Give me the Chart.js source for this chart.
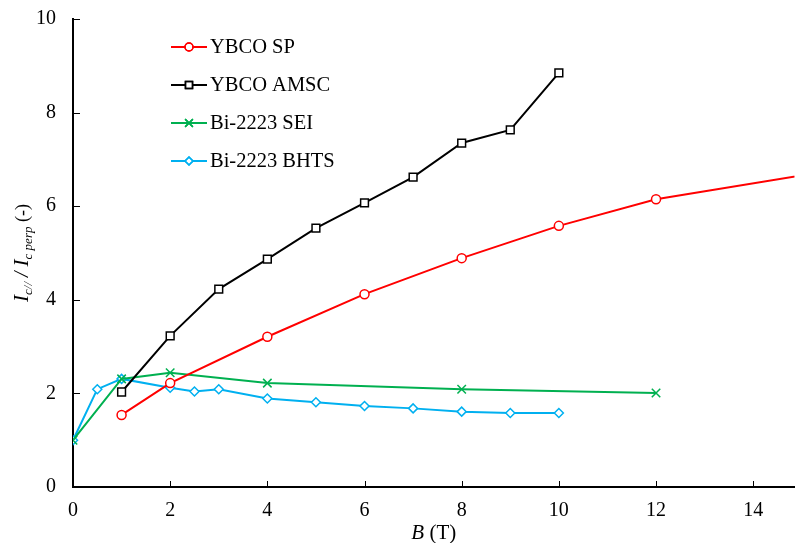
<!DOCTYPE html>
<html>
<head>
<meta charset="utf-8">
<script src="https://cdn.jsdelivr.net/npm/chart.js@4.4.1/dist/chart.umd.min.js"></script>
<style>
  html, body { margin: 0; padding: 0; background: #fff; overflow: hidden; }
  /* a few px wider than the window: Chart.js keeps a small right margin for the x labels */
  #wrap { width: 802px; height: 543px; }
</style>
</head>
<body>
<div id="wrap"><canvas id="chart"></canvas></div>
<script>
// B (T) values and Ic///Ic perp ratios
const spB = [1, 2, 4, 6, 8, 10, 12, 16];
const spRatio = [1.54, 2.22, 3.21, 4.12, 4.89, 5.58, 6.15, 6.83];

const amscB = [1, 2, 3, 4, 5, 6, 7, 8, 9, 10];
const amscRatio = [2.03, 3.23, 4.23, 4.87, 5.53, 6.07, 6.62, 7.35, 7.63, 8.85];

const seiB = [0, 1, 2, 4, 8, 12];
const seiRatio = [1.0, 2.31, 2.44, 2.22, 2.09, 2.01];

const bhtsB = [0, 0.5, 1, 2, 2.5, 3, 4, 5, 6, 7, 8, 9, 10];
const bhtsRatio = [1.0, 2.09, 2.31, 2.12, 2.04, 2.09, 1.89, 1.81, 1.73, 1.68, 1.61, 1.58, 1.58];

const xTicks = [0, 2, 4, 6, 8, 10, 12, 14];
const yTicks = [0, 2, 4, 6, 8, 10];

const seriesNames = ['YBCO SP', 'YBCO AMSC', 'Bi-2223 SEI', 'Bi-2223 BHTS'];
const seriesColors = ['#ff0000', '#000000', '#00b050', '#00b0f0'];
const seriesMarkers = ['circle', 'rect', 'crossRot', 'rectRot'];
const markerSizes = [4.5, 5.5, 6, 4.5];

function toPoints(xs, ys) {
    return xs.map((x, i) => ({ x: x, y: ys[i] }));
}

const allData = [
    toPoints(spB, spRatio),
    toPoints(amscB, amscRatio),
    toPoints(seiB, seiRatio),
    toPoints(bhtsB, bhtsRatio)
];

const serif = '"Liberation Serif", "Times New Roman", serif';

// inward tick marks, axis titles and the legend box
const decorPlugin = {
    id: 'decor',
    afterDraw(chart) {
        const ctx = chart.ctx;
        const xs = chart.scales.x;
        const ys = chart.scales.y;
        const area = chart.chartArea;
        ctx.save();
        ctx.strokeStyle = '#000';
        ctx.lineWidth = 1;
        xTicks.forEach(v => {
            const px = Math.round(xs.getPixelForValue(v)) + 0.5;
            ctx.beginPath();
            ctx.moveTo(px, area.bottom);
            ctx.lineTo(px, area.bottom - 6);
            ctx.stroke();
        });
        yTicks.forEach(v => {
            const py = Math.round(ys.getPixelForValue(v)) + 0.5;
            ctx.beginPath();
            ctx.moveTo(area.left, py);
            ctx.lineTo(area.left + 7, py);
            ctx.stroke();
        });

        // x title: B (T)
        ctx.fillStyle = '#000';
        ctx.textBaseline = 'alphabetic';
        ctx.font = 'italic 21px ' + serif;
        const bW = ctx.measureText('B').width;
        ctx.font = '21px ' + serif;
        const tW = ctx.measureText(' (T)').width;
        let sx = (area.left + area.right) / 2 - (bW + tW) / 2;
        ctx.font = 'italic 21px ' + serif;
        ctx.fillText('B', sx, 539);
        ctx.font = '21px ' + serif;
        ctx.fillText(' (T)', sx + bW, 539);

        // y title: Ic// / Ic perp (-)
        const parts = [
            { t: 'I', f: 'italic 21px ' + serif, dy: 0 },
            { t: 'c//', f: 'italic 13px ' + serif, dy: 4 },
            { t: ' / ', f: 'italic 20px ' + serif, dy: 0 },
            { t: 'I', f: 'italic 21px ' + serif, dy: 0 },
            { t: 'c perp', f: 'italic 13px ' + serif, dy: 4 },
            { t: ' (-)', f: '18px ' + serif, dy: 0 }
        ];
        let total = 0;
        parts.forEach(p => { ctx.font = p.f; p.w = ctx.measureText(p.t).width; total += p.w; });
        ctx.translate(28, 253);
        ctx.rotate(-Math.PI / 2);
        let cx = -total / 2;
        parts.forEach(p => {
            ctx.font = p.f;
            ctx.fillText(p.t, cx, p.dy);
            cx += p.w;
        });
        ctx.setTransform(1, 0, 0, 1, 0, 0);

        // legend
        ctx.font = '20.5px ' + serif;
        ctx.textBaseline = 'middle';
        seriesNames.forEach((name, i) => {
            const ly = 47 + i * 38;
            ctx.strokeStyle = seriesColors[i];
            ctx.lineWidth = 2;
            ctx.beginPath();
            ctx.moveTo(171, ly);
            ctx.lineTo(207, ly);
            ctx.stroke();
            ctx.fillStyle = '#fff';
            ctx.lineWidth = 1.5;
            Chart.helpers.drawPoint(ctx, { pointStyle: seriesMarkers[i], radius: markerSizes[i] - 0.5, borderWidth: 1.5 }, 189, ly);
            ctx.stroke();
            ctx.fillStyle = '#000';
            ctx.fillText(name, 210, ly + 1);
        });
        ctx.restore();
    }
};

const datasets = allData.map((pts, i) => ({
    label: seriesNames[i],
    data: pts,
    borderColor: seriesColors[i],
    backgroundColor: '#ffffff',
    borderWidth: 2,
    pointStyle: seriesMarkers[i],
    pointRadius: markerSizes[i],
    pointBorderWidth: 1.5,
    pointBorderColor: seriesColors[i],
    pointBackgroundColor: '#ffffff',
    tension: 0,
    fill: false,
    clip: 0
}));

new Chart(document.getElementById('chart'), {
    type: 'scatter',
    data: { datasets: datasets },
    options: {
        responsive: true,
        maintainAspectRatio: false,
        animation: false,
        showLine: true,
        layout: { padding: { top: 19, right: 0, left: 0, bottom: 0 } },
        plugins: {
            legend: { display: false },
            tooltip: { enabled: false }
        },
        scales: {
            x: {
                type: 'linear',
                min: 0,
                max: 14.85,
                afterBuildTicks: s => { s.ticks = xTicks.map(v => ({ value: v })); },
                afterFit: s => { s.height = 56; s.paddingLeft = 0; s.paddingRight = 0; },
                border: { color: '#000', width: 2 },
                grid: { display: false, drawTicks: false },
                ticks: {
                    color: '#000',
                    padding: 12,
                    font: { family: serif, size: 20 },
                    maxRotation: 0
                }
            },
            y: {
                type: 'linear',
                min: 0,
                max: 10,
                afterBuildTicks: s => { s.ticks = yTicks.map(v => ({ value: v })); },
                afterFit: s => { s.width = 73; s.paddingTop = 0; s.paddingBottom = 0; },
                border: { color: '#000', width: 2 },
                grid: { display: false, drawTicks: false },
                ticks: {
                    color: '#000',
                    padding: 17,
                    font: { family: serif, size: 20 }
                }
            }
        }
    },
    plugins: [decorPlugin]
});
</script>
</body>
</html>
